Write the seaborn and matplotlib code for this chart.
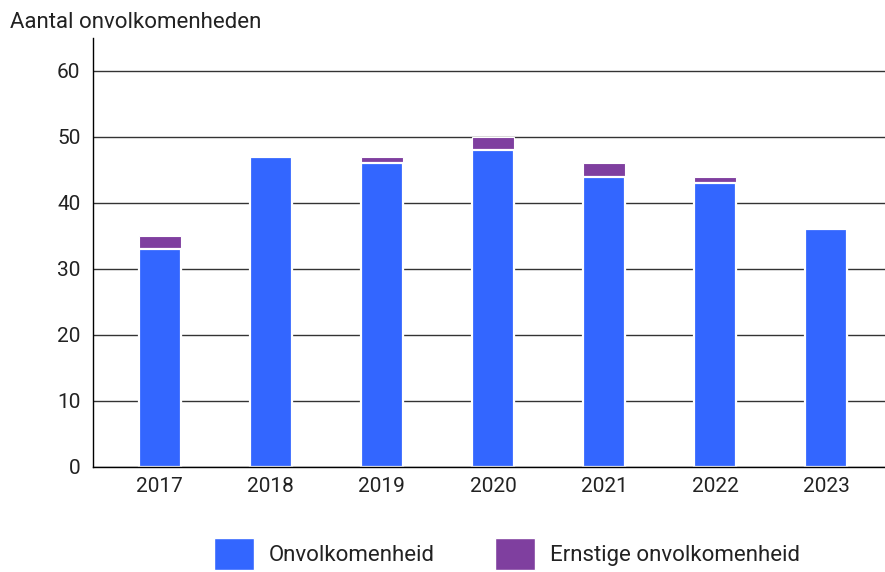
import pandas as pd
import matplotlib.pyplot as plt
import seaborn as sns
from matplotlib.patches import Patch

# data
years = ['2017', '2018', '2019', '2020', '2021', '2022', '2023']
onvolkomenheid = [33, 47, 46, 48, 44, 43, 36]
ernstig = [2, 0, 1, 2, 2, 1, 0]

blue = '#3366ff'
purple = '#7f3f9f'

df = pd.DataFrame({'jaar': years, 'onvolk': onvolkomenheid, 'ernstig': ernstig})
df['totaal'] = df['onvolk'] + df['ernstig']

sns.set_theme(style="white")
plt.rcParams['font.family'] = ['Roboto', 'DejaVu Sans']

fig = plt.figure(figsize=(8.85, 5.72), dpi=100)
ax = fig.add_axes([93 / 885, 1 - 467 / 572, 1 - 93 / 885, (467 - 38) / 572])

# totals in purple, blue segment drawn on top with a white edge as separator
sns.barplot(data=df, x='jaar', y='totaal', color=purple, width=0.38,
            saturation=1, edgecolor='white', linewidth=0.8, ax=ax, zorder=2)
sns.barplot(data=df, x='jaar', y='onvolk', color=blue, width=0.38,
            saturation=1, edgecolor='white', linewidth=1.6, ax=ax, zorder=3)

ax.set_ylim(0, 65)
ax.set_xlim(-0.6, 6.53)
ax.set_yticks(range(0, 61, 10))
ax.yaxis.grid(True, color='#333333', linewidth=1)
ax.set_axisbelow(True)
ax.set_xlabel('')
ax.set_ylabel('')
for s in ['top', 'right']:
    ax.spines[s].set_visible(False)
for s in ['left', 'bottom']:
    ax.spines[s].set_color('black')
    ax.spines[s].set_linewidth(1)
    ax.spines[s].set_zorder(4)
ax.tick_params(axis='both', length=0, labelsize=15, colors='#222222')
ax.tick_params(axis='y', pad=9)
ax.tick_params(axis='x', pad=7)

fig.text(10 / 885, 1 - 22 / 572, 'Aantal onvolkomenheden', fontsize=16,
         color='#222222', ha='left', va='center')

handles = [Patch(facecolor=blue, label='Onvolkomenheid'),
           Patch(facecolor=purple, label='Ernstige onvolkomenheid')]
fig.legend(handles=handles, loc='center', bbox_to_anchor=(507 / 885, 1 - 554 / 572),
           ncol=2, frameon=False, fontsize=16, handlelength=1.8, handleheight=1.9,
           handletextpad=0.68, columnspacing=2.7, labelcolor='#222222')

fig.savefig('out.png', dpi=100)
